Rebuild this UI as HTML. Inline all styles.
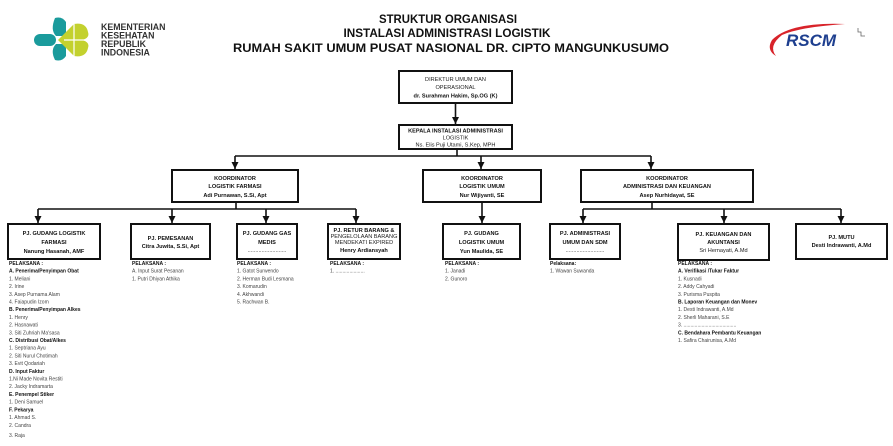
<!DOCTYPE html>
<html><head><meta charset="utf-8"><style>
html,body{margin:0;padding:0;background:#fff;}
svg{display:block;font-family:"Liberation Sans",sans-serif;}
.bx{fill:#fff;stroke:#111;stroke-width:2;}
.ln{stroke:#111;stroke-width:1.6;fill:none;}
.t{font-size:5.6px;fill:#222;text-anchor:middle;}
.tb{font-size:5.6px;fill:#111;text-anchor:middle;font-weight:bold;}
.l{font-size:5px;fill:#444;}
.lb{font-size:5px;fill:#111;font-weight:bold;}
</style></head><body>
<svg width="893" height="446" viewBox="0 0 893 446" xmlns="http://www.w3.org/2000/svg">
<defs><marker id="a" markerWidth="8" markerHeight="8" refX="3.5" refY="7" orient="0" markerUnits="userSpaceOnUse"><path d="M0,0 L7,0 L3.5,7 z" fill="#111"/></marker></defs>

<!-- Kemenkes logo -->
<g>
<path d="M55,18 Q62,16 66,22 L66,36 L56,36 Q50,30 55,18z" fill="#1a9b9c"/>
<path d="M55,60 Q62,62 66,56 L66,44 L56,44 Q50,50 55,60z" fill="#1a9b9c"/>
<rect x="34" y="34" width="22" height="12" rx="6" fill="#1a9b9c"/>
<path d="M58,40 L74,24 Q86,22 88,32 Q90,38 82,40 Q90,42 88,48 Q86,58 74,56 z" fill="#c3d12e"/>
<path d="M74,24 L74,56 M64,40 L88,40" stroke="#fff" stroke-width="1.2"/>
</g>
<g font-size="8.8px" font-weight="bold" fill="#333">
<text x="101" y="30">KEMENTERIAN</text>
<text x="101" y="38.5">KESEHATAN</text>
<text x="101" y="47">REPUBLIK</text>
<text x="101" y="55.5">INDONESIA</text>
</g>

<!-- RSCM logo -->
<path d="M845,24 Q790,22 772,40 Q766,50 776,56 Q768,46 782,35 Q800,27 845,24z" fill="#d8232a"/>
<text x="786" y="46" font-size="17px" font-weight="bold" font-style="italic" fill="#1e3f8f">RSCM</text>
<path d="M858,28 v4 h3 v4 h4" stroke="#666" stroke-width="0.8" fill="none"/>

<!-- Title -->
<g font-weight="bold" font-size="12px" fill="#111" text-anchor="middle">
<text x="448" y="23" textLength="138" lengthAdjust="spacingAndGlyphs">STRUKTUR ORGANISASI</text>
<text x="447" y="37" textLength="207" lengthAdjust="spacingAndGlyphs">INSTALASI ADMINISTRASI LOGISTIK</text>
<text x="451" y="52" textLength="436" lengthAdjust="spacingAndGlyphs">RUMAH SAKIT UMUM PUSAT NASIONAL DR. CIPTO MANGUNKUSUMO</text>
</g>

<!-- Top boxes -->
<rect class="bx" x="399" y="71" width="113" height="32"/>
<text class="t" x="455.5" y="81">DIREKTUR UMUM DAN</text>
<text class="t" x="455.5" y="89">OPERASIONAL</text>
<text class="tb" x="455.5" y="97.5">dr. Surahman Hakim, Sp.OG (K)</text>
<line class="ln" x1="455.5" y1="103" x2="455.5" y2="124" marker-end="url(#a)"/>
<rect class="bx" x="399" y="125" width="113" height="24"/>
<text class="tb" x="455.5" y="132.5">KEPALA INSTALASI ADMINISTRASI</text>
<text class="t" x="455.5" y="139.5">LOGISTIK</text>
<text class="t" x="455.5" y="146.5">Ns. Elis Puji Utami, S.Kep, MPH</text>
<line class="ln" x1="457" y1="149" x2="457" y2="156"/>
<line class="ln" x1="235" y1="156" x2="651" y2="156"/>
<line class="ln" x1="235" y1="156" x2="235" y2="169" marker-end="url(#a)"/>
<line class="ln" x1="481" y1="156" x2="481" y2="169" marker-end="url(#a)"/>
<line class="ln" x1="651" y1="156" x2="651" y2="169" marker-end="url(#a)"/>

<!-- Coordinators -->
<rect class="bx" x="172" y="170" width="126" height="32"/>
<text class="tb" x="235" y="180">KOORDINATOR</text>
<text class="tb" x="235" y="188">LOGISTIK FARMASI</text>
<text class="tb" x="235" y="197">Adi Purnawan, S.Si, Apt</text>
<rect class="bx" x="423" y="170" width="118" height="32"/>
<text class="tb" x="482" y="180">KOORDINATOR</text>
<text class="tb" x="482" y="188">LOGISTIK UMUM</text>
<text class="tb" x="482" y="197">Nur Wijiyanti, SE</text>
<rect class="bx" x="581" y="170" width="172" height="32"/>
<text class="tb" x="667" y="180">KOORDINATOR</text>
<text class="tb" x="667" y="188">ADMINISTRASI DAN KEUANGAN</text>
<text class="tb" x="667" y="197">Asep Nurhidayat, SE</text>

<!-- branches -->
<line class="ln" x1="236" y1="202" x2="236" y2="209"/>
<line class="ln" x1="38" y1="209" x2="356" y2="209"/>
<line class="ln" x1="38" y1="209" x2="38" y2="223" marker-end="url(#a)"/>
<line class="ln" x1="172" y1="209" x2="172" y2="223" marker-end="url(#a)"/>
<line class="ln" x1="266" y1="209" x2="266" y2="223" marker-end="url(#a)"/>
<line class="ln" x1="356" y1="209" x2="356" y2="223" marker-end="url(#a)"/>
<line class="ln" x1="482" y1="202" x2="482" y2="223" marker-end="url(#a)"/>
<line class="ln" x1="652" y1="202" x2="652" y2="209"/>
<line class="ln" x1="583" y1="209" x2="841" y2="209"/>
<line class="ln" x1="583" y1="209" x2="583" y2="223" marker-end="url(#a)"/>
<line class="ln" x1="724" y1="209" x2="724" y2="223" marker-end="url(#a)"/>
<line class="ln" x1="841" y1="209" x2="841" y2="223" marker-end="url(#a)"/>

<!-- Child boxes -->
<rect class="bx" x="8" y="224" width="92" height="35"/>
<text class="tb" x="54" y="235">PJ. GUDANG LOGISTIK</text>
<text class="tb" x="54" y="244">FARMASI</text>
<text class="tb" x="54" y="253">Nanung Hasanah, AMF</text>
<rect class="bx" x="131" y="224" width="79" height="35"/>
<text class="tb" x="170.5" y="240">PJ. PEMESANAN</text>
<text class="tb" x="170.5" y="248">Citra Juwita, S.Si, Apt</text>
<rect class="bx" x="237" y="224" width="60" height="35"/>
<text class="tb" x="267" y="235">PJ. GUDANG GAS</text>
<text class="tb" x="267" y="244">MEDIS</text>
<text class="t" x="267" y="252">.........................</text>
<rect class="bx" x="328" y="224" width="72" height="35"/>
<text class="tb" x="364" y="232" font-size="4px">PJ. RETUR BARANG &amp;</text>
<text class="t" x="364" y="238" font-size="4px">PENGELOLAAN BARANG</text>
<text class="t" x="364" y="244" font-size="4px">MENDEKATI EXPIRED</text>
<text class="tb" x="364" y="252">Henry Ardiansyah</text>
<rect class="bx" x="443" y="224" width="77" height="35"/>
<text class="tb" x="481.5" y="235">PJ. GUDANG</text>
<text class="tb" x="481.5" y="244">LOGISTIK UMUM</text>
<text class="tb" x="481.5" y="253">Yun Maulida, SE</text>
<rect class="bx" x="550" y="224" width="70" height="35"/>
<text class="tb" x="585" y="235">PJ. ADMINISTRASI</text>
<text class="tb" x="585" y="244">UMUM DAN SDM</text>
<text class="t" x="585" y="252">.........................</text>
<rect class="bx" x="678" y="224" width="91" height="36"/>
<text class="tb" x="723.5" y="236">PJ. KEUANGAN DAN</text>
<text class="tb" x="723.5" y="244">AKUNTANSI</text>
<text class="t" x="723.5" y="252">Sri Hernayati, A.Md</text>
<rect class="bx" x="796" y="224" width="91" height="35"/>
<text class="tb" x="841.5" y="239">PJ. MUTU</text>
<text class="tb" x="841.5" y="247">Desti Indrawanti, A.Md</text>

<!-- Lists -->
<g transform="translate(9,0)">
<text class="lb" y="265">PELAKSANA :</text>
<text class="lb" y="272.7">A.  Penerima/Penyimpan Obat</text>
<text class="l" y="280.4">1. Meliani</text>
<text class="l" y="288.1">2. Irine</text>
<text class="l" y="295.8">3. Asep Purnama Alam</text>
<text class="l" y="303.5">4. Faiapudin Izom</text>
<text class="lb" y="311.2">B.  Penerima/Penyimpan Alkes</text>
<text class="l" y="318.9">1. Henry</text>
<text class="l" y="326.6">2. Hasnawati</text>
<text class="l" y="334.3">3. Siti Zuhriah Ma'sasa</text>
<text class="lb" y="342">C. Distribusi Obat/Alkes</text>
<text class="l" y="349.7">1. Septriana Ayu</text>
<text class="l" y="357.4">2. Siti Nurul Chotimah</text>
<text class="l" y="365.1">3. Evit Qodariah</text>
<text class="lb" y="372.8">D. Input Faktur</text>
<text class="l" y="380.5">1.Ni Made Novita Restiti</text>
<text class="l" y="388.2">2. Jacky Indramarta</text>
<text class="lb" y="395.9">E. Penempel Stiker</text>
<text class="l" y="403.6">1. Deni Samuel</text>
<text class="lb" y="411.3">F. Pekarya</text>
<text class="l" y="419">1. Ahmad S.</text>
<text class="l" y="427">2. Candra</text>
<text class="l" y="437">3. Raja</text>
</g>
<g transform="translate(132,0)">
<text class="lb" y="265">PELAKSANA :</text>
<text class="l" y="272.7">A. Input Surat Pesanan</text>
<text class="l" y="280.4">1. Putri Dhiyan Athika</text>
</g>
<g transform="translate(237,0)">
<text class="lb" y="265">PELAKSANA :</text>
<text class="l" y="272.7">1. Gatot Surwendo</text>
<text class="l" y="280.4">2. Herman Budi Lesmana</text>
<text class="l" y="288.1">3. Komarudin</text>
<text class="l" y="295.8">4. Akhwandi</text>
<text class="l" y="303.5">5. Rachwan B.</text>
</g>
<g transform="translate(330,0)">
<text class="lb" y="265">PELAKSANA :</text>
<text class="l" y="272.7">1. .....................</text>
</g>
<g transform="translate(445,0)">
<text class="lb" y="265">PELAKSANA :</text>
<text class="l" y="272.7">1. Janadi</text>
<text class="l" y="280.4">2. Gunoro</text>
</g>
<g transform="translate(550,0)">
<text class="lb" y="265">Pelaksana:</text>
<text class="l" y="272.7">1. Wawan Suwanda</text>
</g>
<g transform="translate(678,0)">
<text class="lb" y="265">PELAKSANA :</text>
<text class="lb" y="272.7">A.  Verifikasi /Tukar Faktur</text>
<text class="l" y="280.4">1. Kusnadi</text>
<text class="l" y="288.1">2. Addy Cahyadi</text>
<text class="l" y="295.8">3. Purisma Puspita</text>
<text class="lb" y="303.5">B. Laporan Keuangan dan Monev</text>
<text class="l" y="311.2">1. Desti Indrawanti, A.Md</text>
<text class="l" y="318.9">2. Sherli Maharani, S.E</text>
<text class="l" y="326.6">3. ......................................</text>
<text class="lb" y="334.3">C. Bendahara Pembantu Keuangan</text>
<text class="l" y="342">1. Safira Chairunisa, A.Md</text>
</g>
</svg>
</body></html>
